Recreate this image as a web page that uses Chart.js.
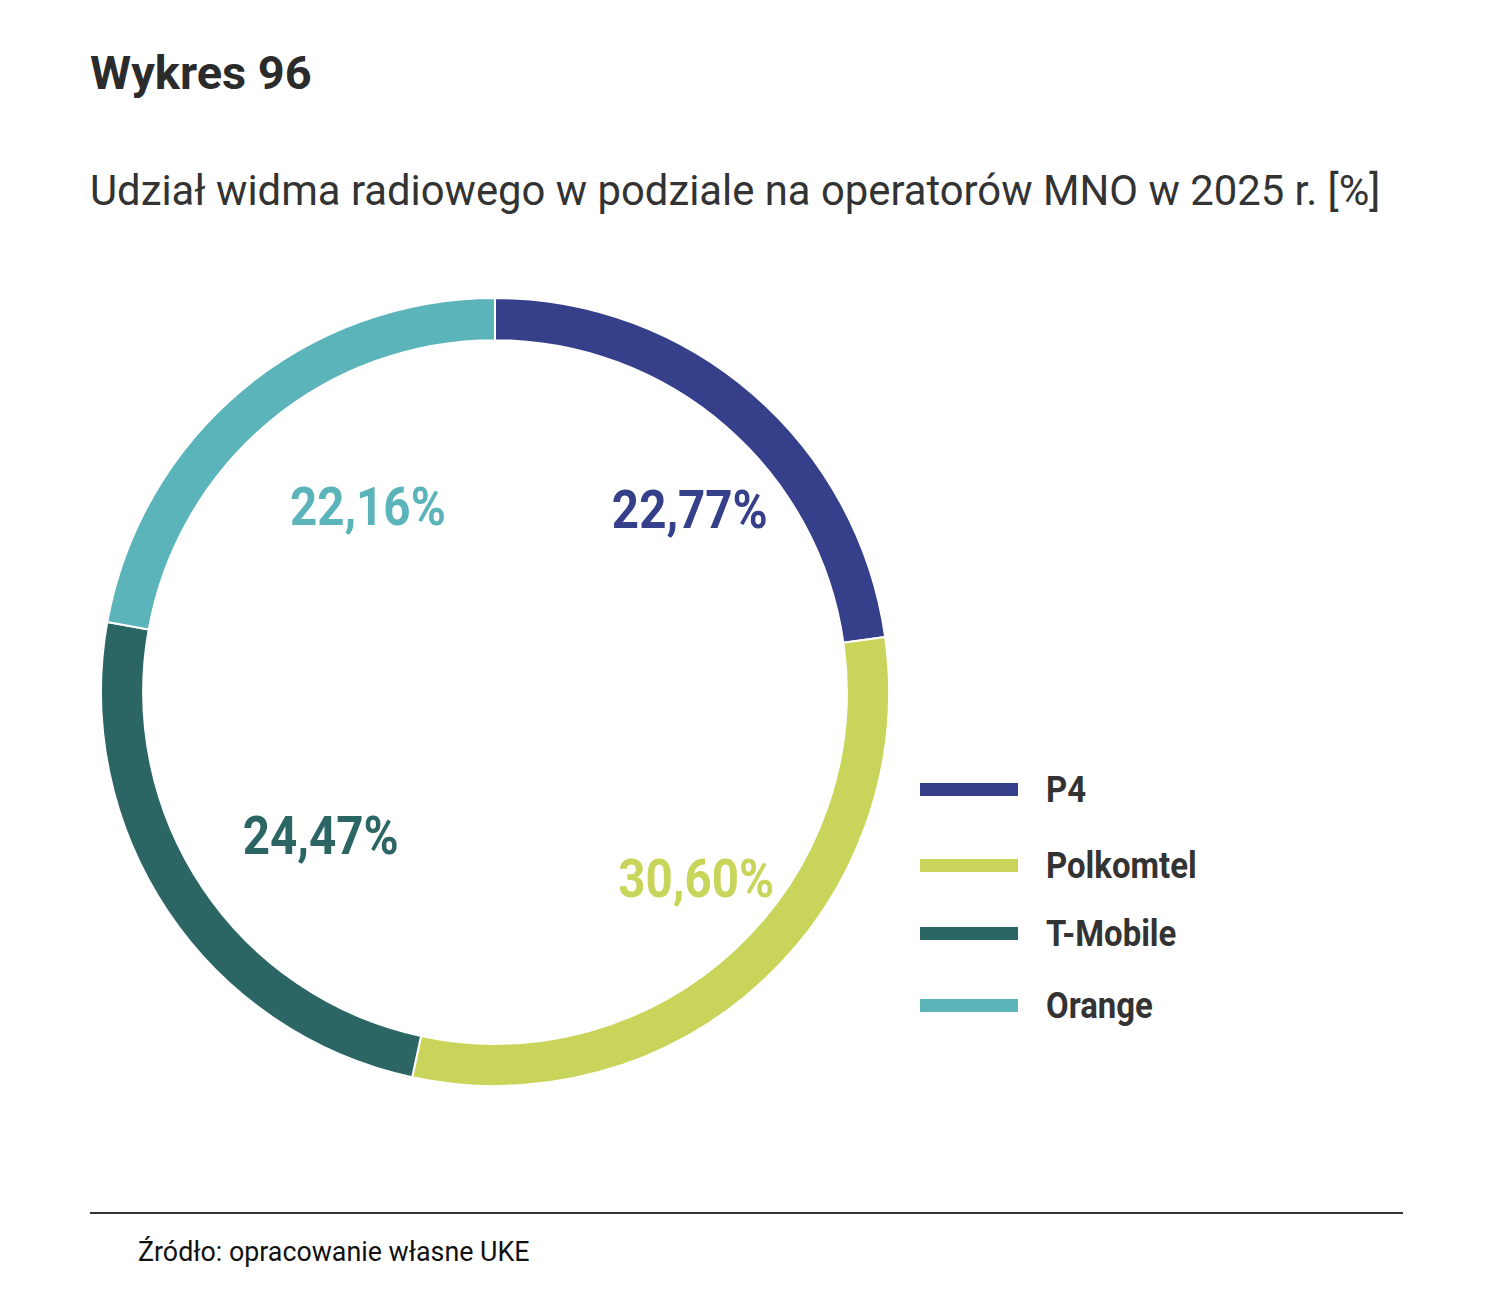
<!DOCTYPE html>
<html lang="pl">
<head>
<meta charset="utf-8">
<script src="https://cdn.jsdelivr.net/npm/chart.js@4.4.1/dist/chart.umd.min.js"></script>
<style>
  body { margin: 0; background: #fff; font-family: Roboto, "Noto Sans", sans-serif; }
  #page { position: relative; width: 1500px; height: 1310px; overflow: hidden; }
  .title { position: absolute; left: 90px; top: 43px; font-size: 47px; font-weight: 700; color: #2b2b2b; line-height: 60px; }
  .subtitle { position: absolute; left: 90px; top: 165px; font-size: 41.8px; color: #333; line-height: 52px; white-space: nowrap; }
  #chartBox { position: absolute; left: 100px; top: 297px; width: 790px; height: 790px; }
  #legend { position: absolute; left: 920px; top: 0; }
  .legend-item { position: absolute; left: 0; white-space: nowrap; }
  .legend-item .swatch { position: absolute; left: 0; width: 98px; height: 13px; }
  .legend-item .label { position: absolute; left: 126px; font-size: 37px; font-weight: 700; color: #333; line-height: 40px; transform: scaleX(0.89); transform-origin: left center; }
  .rule { position: absolute; left: 90px; top: 1212px; width: 1313px; height: 2px; background: #333; }
  .source { position: absolute; left: 138px; top: 1235px; font-size: 26.8px; color: #111; line-height: 34px; }
</style>
</head>
<body>
<div id="page">
  <div class="title">Wykres 96</div>
  <div class="subtitle">Udział widma radiowego w podziale na operatorów MNO w 2025 r. [%]</div>
  <div id="chartBox"><canvas id="spectrumChart"></canvas></div>
  <div id="legend"></div>
  <div class="rule"></div>
  <div class="source">Źródło: opracowanie własne UKE</div>
</div>
<script>
// Operators and their share of radio spectrum [%]
const operators = ['P4', 'Polkomtel', 'T-Mobile', 'Orange'];
const shares = [22.77, 30.60, 24.47, 22.16];
const colors = ['#353f8a', '#c9d55a', '#2b6664', '#5bb4b9'];
// legend row centres (px from page top)
const legendRows = [790, 866, 934, 1006];

function formatShare(v) {
    return v.toFixed(2).replace('.', ',') + '%';
}

// Draws the percentage inside the ring, coloured like its slice
const sliceLabels = {
    id: 'sliceLabels',
    afterDatasetsDraw(chart) {
        const ctx = chart.ctx;
        const meta = chart.getDatasetMeta(0);
        meta.data.forEach((arc, i) => {
            const mid = (arc.startAngle + arc.endAngle) / 2;
            const r = arc.outerRadius * 0.63;
            // labels in the original sit a bit right of the radial line
            const x = arc.x + Math.cos(mid) * r + 32;
            const y = arc.y + Math.sin(mid) * r + 10;
            ctx.save();
            ctx.translate(x, y);
            ctx.scale(0.88, 1);
            ctx.font = 'bold 54px Roboto';
            ctx.fillStyle = colors[i];
            ctx.textAlign = 'center';
            ctx.textBaseline = 'middle';
            ctx.fillText(formatShare(shares[i]), 0, 0);
            ctx.restore();
        });
    }
};

function buildLegend() {
    const legend = document.getElementById('legend');
    legend.innerHTML = operators.map((name, i) => `
        <div class="legend-item" style="top:${legendRows[i]}px">
            <span class="swatch" style="background:${colors[i]};top:-7px"></span>
            <span class="label" style="top:-20px">${name}</span>
        </div>
    `).join('');
}

function createChart() {
    const ctx = document.getElementById('spectrumChart').getContext('2d');
    new Chart(ctx, {
        type: 'doughnut',
        data: {
            labels: operators,
            datasets: [{
                data: shares,
                backgroundColor: colors,
                borderColor: '#ffffff',
                borderWidth: 2
            }]
        },
        options: {
            responsive: true,
            maintainAspectRatio: false,
            animation: false,
            cutout: '89.3%',
            layout: { padding: 0 },
            plugins: {
                legend: { display: false },
                tooltip: { enabled: false }
            }
        },
        plugins: [sliceLabels]
    });
}

buildLegend();
createChart();
</script>
</body>
</html>
